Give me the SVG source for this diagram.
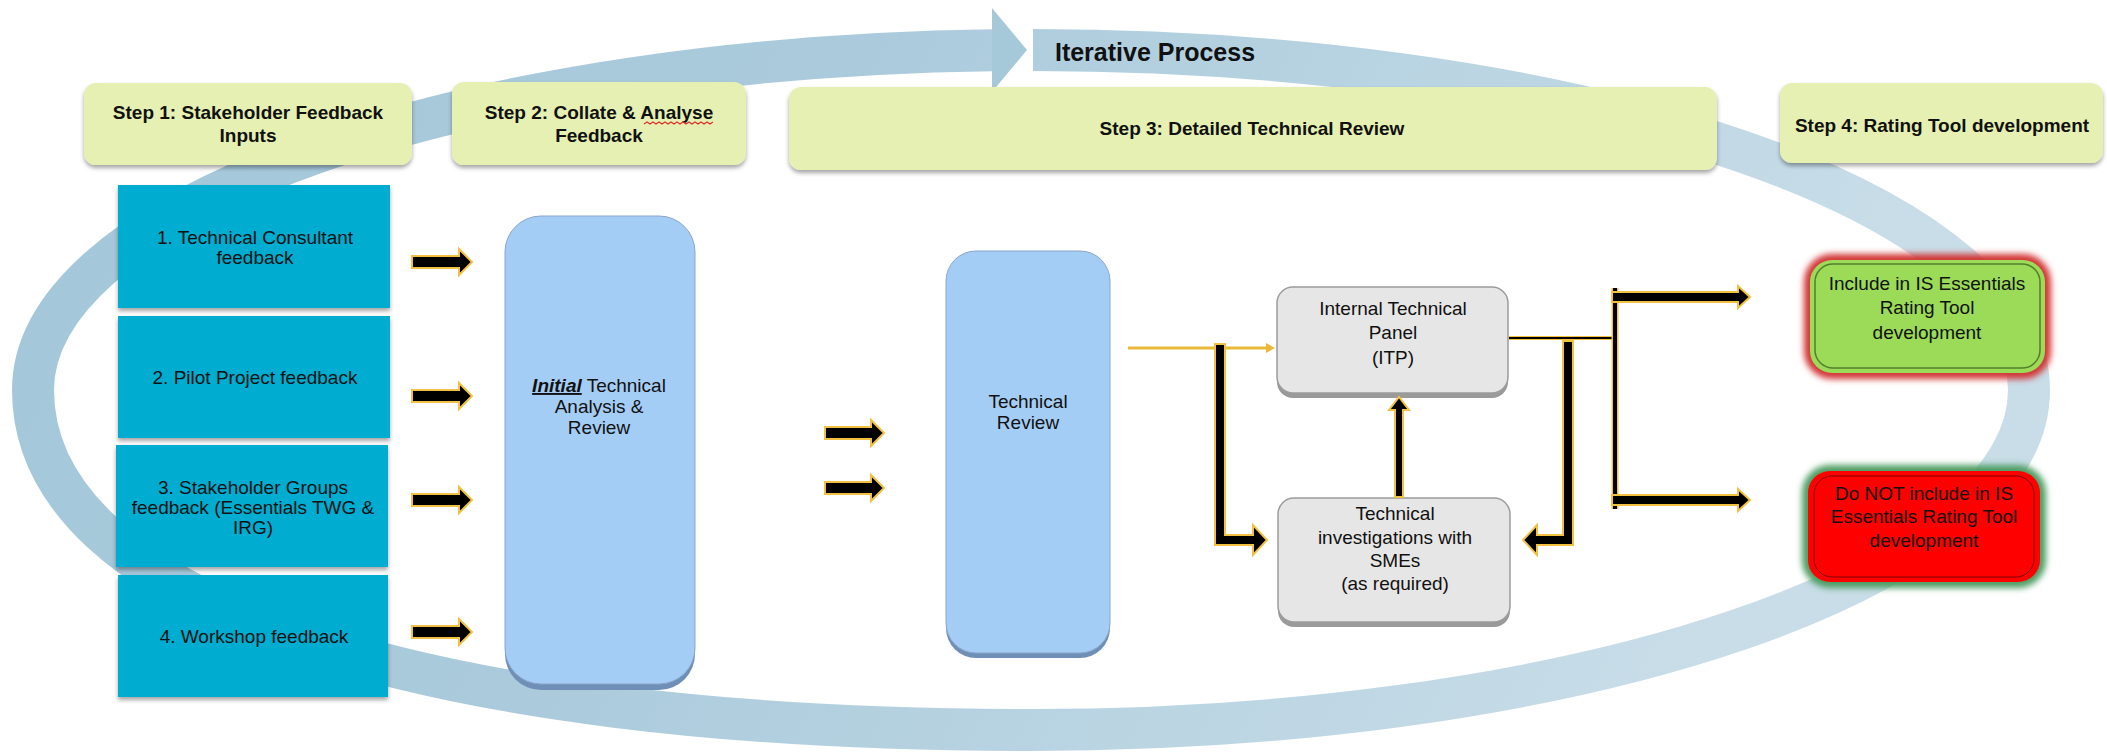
<svg xmlns="http://www.w3.org/2000/svg" width="2107" height="754" viewBox="0 0 2107 754">
<defs>
<linearGradient id="ringGrad" gradientUnits="userSpaceOnUse" x1="0" y1="0" x2="1800" y2="900">
<stop offset="0" stop-color="#a2c7d9"/>
<stop offset="0.4" stop-color="#abcbdc"/>
<stop offset="0.9" stop-color="#c8dde8"/>
</linearGradient>
<filter id="sh" x="-10%" y="-10%" width="120%" height="130%">
<feDropShadow dx="0" dy="3" stdDeviation="2" flood-color="#000" flood-opacity="0.35"/>
</filter>
<filter id="blur" x="-20%" y="-30%" width="140%" height="160%">
<feGaussianBlur stdDeviation="3"/>
</filter>
<style>
text{font-family:"Liberation Sans",Arial,sans-serif;fill:#111;text-anchor:middle}
.hd{font-size:19px;font-weight:bold}
.tx{font-size:19px}
.step{fill:#e5f0b2}
.inp{fill:#00acd0}
.blue{fill:#a4cdf6;stroke:#8aa6c8;stroke-width:1}
.blueSh{fill:#6f8fb6}
.grey{fill:#e6e6e6;stroke:#9c9c9c;stroke-width:1.5}
.greySh{fill:#9a9a9a}
.arr{fill:#000;stroke:#f2c142;stroke-width:2;stroke-linejoin:miter}
</style>
</defs>
<rect width="2107" height="754" fill="#fff"/>

<g id="iterative-ring">
<path d="M1033 50 A998 340 0 0 1 2029 390 A998 340 0 0 1 1031 730 C412 730 33 601 33 390 A998 340 0 0 1 993 50.2" fill="none" stroke="url(#ringGrad)" stroke-width="42"/>
<polygon points="992,8 1027,50 992,92" fill="#a6c9da"/>
<text x="1155" y="61" style="font-size:25px;font-weight:bold">Iterative Process</text>
</g>

<g id="step1">
<rect x="84" y="83" width="328" height="82" rx="12" class="step" filter="url(#sh)"/>
<text class="hd" x="248" y="119">Step 1: Stakeholder Feedback</text>
<text class="hd" x="248" y="142">Inputs</text>
</g>
<g id="step2">
<rect x="452" y="82" width="294" height="83" rx="12" class="step" filter="url(#sh)"/>
<text class="hd" x="599" y="119">Step 2: Collate &amp; Analyse</text>
<text class="hd" x="599" y="142">Feedback</text>
<path d="M644 124 l3 -2 l3 2 l3 -2 l3 2 l3 -2 l3 2 l3 -2 l3 2 l3 -2 l3 2 l3 -2 l3 2 l3 -2 l3 2 l3 -2 l3 2 l3 -2 l3 2 l3 -2 l3 2 l3 -2 l3 2 l3 -2" fill="none" stroke="#e0302a" stroke-width="1.2"/>
</g>
<g id="step3">
<rect x="789" y="87" width="928" height="83" rx="12" class="step" filter="url(#sh)"/>
<text class="hd" x="1252" y="135">Step 3: Detailed Technical Review</text>
</g>
<g id="step4">
<rect x="1780" y="83" width="323" height="80" rx="12" class="step" filter="url(#sh)"/>
<text class="hd" x="1942" y="132">Step 4: Rating Tool development</text>
</g>

<g id="input1">
<rect x="118" y="185" width="272" height="123" class="inp" filter="url(#sh)"/>
<text class="tx" x="255" y="244">1. Technical Consultant</text>
<text class="tx" x="255" y="264">feedback</text>
</g>
<g id="input2">
<rect x="118" y="316" width="272" height="122" class="inp" filter="url(#sh)"/>
<text class="tx" x="255" y="384">2. Pilot Project feedback</text>
</g>
<g id="input3">
<rect x="116" y="445" width="272" height="122" class="inp" filter="url(#sh)"/>
<text class="tx" x="253" y="494">3. Stakeholder Groups</text>
<text class="tx" x="253" y="514">feedback (Essentials TWG &amp;</text>
<text class="tx" x="253" y="534">IRG)</text>
</g>
<g id="input4">
<rect x="118" y="575" width="270" height="122" class="inp" filter="url(#sh)"/>
<text class="tx" x="254" y="643">4. Workshop feedback</text>
</g>

<g id="initial-analysis">
<rect x="505" y="221" width="190" height="469" rx="36" class="blueSh"/>
<rect x="505" y="216" width="190" height="468" rx="36" class="blue"/>
<text class="tx" x="599" y="392"><tspan font-weight="bold" font-style="italic" text-decoration="underline">Initial</tspan> Technical</text>
<text class="tx" x="599" y="413">Analysis &amp;</text>
<text class="tx" x="599" y="434">Review</text>
</g>

<g id="technical-review">
<rect x="946" y="256" width="164" height="402" rx="30" class="blueSh"/>
<rect x="946" y="251" width="164" height="402" rx="30" class="blue"/>
<text class="tx" x="1028" y="408">Technical</text>
<text class="tx" x="1028" y="429">Review</text>
</g>

<g id="itp">
<rect x="1277" y="292" width="231" height="106" rx="16" class="greySh"/>
<rect x="1277" y="287" width="231" height="106" rx="16" class="grey"/>
<text class="tx" x="1393" y="315">Internal Technical</text>
<text class="tx" x="1393" y="339">Panel</text>
<text class="tx" x="1393" y="364">(ITP)</text>
</g>

<g id="tech-investigations">
<rect x="1278" y="503" width="232" height="124" rx="16" class="greySh"/>
<rect x="1278" y="498" width="232" height="124" rx="16" class="grey"/>
<text class="tx" x="1395" y="520">Technical</text>
<text class="tx" x="1395" y="544">investigations with</text>
<text class="tx" x="1395" y="567">SMEs</text>
<text class="tx" x="1395" y="590">(as required)</text>
</g>

<g id="include">
<rect x="1810" y="260" width="235" height="113" rx="22" fill="none" stroke="#d23636" stroke-width="12" filter="url(#blur)"/>
<rect x="1810" y="260" width="235" height="113" rx="22" fill="#9bdb58"/>
<rect x="1815" y="264" width="225" height="104" rx="18" fill="none" stroke="#537f2c" stroke-width="1.5"/>
<text class="tx" x="1927" y="290">Include in IS Essentials</text>
<text class="tx" x="1927" y="314">Rating Tool</text>
<text class="tx" x="1927" y="339">development</text>
</g>

<g id="do-not-include">
<rect x="1808" y="471" width="232" height="111" rx="22" fill="none" stroke="#4e9c62" stroke-width="12" filter="url(#blur)"/>
<rect x="1808" y="471" width="232" height="111" rx="22" fill="#ff0000"/>
<rect x="1814" y="476" width="220" height="101" rx="18" fill="none" stroke="#7a0000" stroke-width="1"/>
<text class="tx" x="1924" y="500">Do NOT include in IS</text>
<text class="tx" x="1924" y="523">Essentials Rating Tool</text>
<text class="tx" x="1924" y="547">development</text>
</g>

<g id="connectors">
<polygon class="arr" points="412,256 459,256 459,249 472,262 459,275 459,268 412,268"/>
<polygon class="arr" points="412,390 459,390 459,383 472,396 459,409 459,402 412,402"/>
<polygon class="arr" points="412,494 459,494 459,487 472,500 459,513 459,506 412,506"/>
<polygon class="arr" points="412,626 459,626 459,619 472,632 459,645 459,638 412,638"/>
<polygon class="arr" points="825,427 871,427 871,420 884,433 871,446 871,439 825,439"/>
<polygon class="arr" points="825,482 871,482 871,475 884,488 871,501 871,494 825,494"/>
<line x1="1128" y1="348" x2="1267" y2="348" stroke="#eab93a" stroke-width="3"/>
<polygon points="1266,343 1275,348 1266,353" fill="#eab93a"/>
<polygon class="arr" points="1215,344 1225,344 1225,535 1253,535 1253,525 1267,540 1253,555 1253,545 1215,545"/>
<polygon class="arr" points="1395,497 1395,410 1389,410 1399,397 1409,410 1403,410 1403,497"/>
<line x1="1509" y1="338" x2="1614" y2="338" stroke="#f2c142" stroke-width="4"/>
<line x1="1509" y1="338" x2="1614" y2="338" stroke="#000" stroke-width="2"/>
<polygon class="arr" points="1563,341 1573,341 1573,545 1537,545 1537,555 1523,540 1537,525 1537,535 1563,535"/>
<line x1="1615" y1="288" x2="1615" y2="509" stroke="#f2c142" stroke-width="7"/>
<line x1="1615" y1="288" x2="1615" y2="509" stroke="#000" stroke-width="4"/>
<polygon class="arr" points="1612,292 1738,292 1738,286 1750,297 1738,308 1738,302 1612,302"/>
<polygon class="arr" points="1612,495 1738,495 1738,489 1750,500 1738,511 1738,505 1612,505"/>
</g>
</svg>
